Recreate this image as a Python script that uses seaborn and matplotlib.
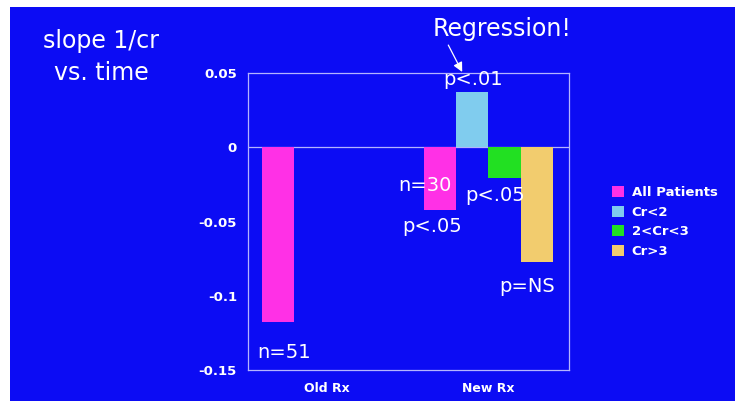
import numpy as np
import pandas as pd
import matplotlib
matplotlib.use("Agg")
import matplotlib.pyplot as plt
import seaborn as sns
from matplotlib.patches import Rectangle

# ---- data ----
groups = ["Old Rx", "Old Rx", "Old Rx", "Old Rx", "New Rx", "New Rx", "New Rx", "New Rx"]
series = ["All Patients", "Cr<2", "2<Cr<3", "Cr>3"] * 2
values = [-0.118, np.nan, np.nan, np.nan, -0.042, 0.037, -0.021, -0.077]
hue_order = ["All Patients", "Cr<2", "2<Cr<3", "Cr>3"]
colors = ["#FF30E6", "#80CCEE", "#22E022", "#F2CC6E"]
ytick_vals = [0.05, 0, -0.05, -0.1, -0.15]
ytick_labels = ["0.05", "0", "-0.05", "-0.1", "-0.15"]

df = pd.DataFrame({"group": groups, "series": series, "value": values}).dropna()

W, H = 740, 401
BLUE = "#0C0CF4"
LINE = "#B4B4FF"

sns.set_theme(style="white")
plt.rcParams["font.family"] = ["DejaVu Sans"]
plt.rcParams["axes.unicode_minus"] = False

fig = plt.figure(figsize=(W / 100, H / 100), dpi=100, facecolor="white")
fig.patches.append(Rectangle((10 / W, 0), (735 - 10) / W, (H - 7) / H,
                             transform=fig.transFigure, facecolor=BLUE,
                             edgecolor="none", zorder=-10))

def px(x0, y0):
    return x0 / W, 1 - y0 / H

l, t = px(248, 73)
r, b = px(569, 370)
ax = fig.add_axes([l, b, r - l, t - b])
ax.set_facecolor("none")

sns.barplot(data=df, x="group", y="value", hue="series", order=["Old Rx", "New Rx"],
            hue_order=hue_order, palette=colors, saturation=1, linewidth=0,
            errorbar=None, ax=ax)

ax.set_xlim(-0.486, 1.498)
ax.set_ylim(-0.15, 0.05)
ax.set_yticks(ytick_vals)
ax.set_yticklabels(ytick_labels)
ax.set_xlabel("")
ax.set_ylabel("")
ax.tick_params(axis="y", length=0, pad=8, labelcolor="white", labelsize=9.5)
ax.tick_params(axis="x", length=0, pad=8.5, labelcolor="white", labelsize=9)
for lab in ax.get_xticklabels() + ax.get_yticklabels():
    lab.set_fontweight("bold")
for s in ax.spines.values():
    s.set_color(LINE)
    s.set_linewidth(0.9)
ax.axhline(0, color=LINE, linewidth=0.9, zorder=0.5)

# annotations
ann = dict(color="white", fontsize=14, ha="left", va="baseline")
ax.text(-0.43, -0.142, "n=51", **ann)
ax.text(0.443, -0.0295, "n=30", **ann)
ax.text(0.467, -0.057, "p<.05", **ann)
ax.text(0.856, -0.0362, "p<.05", **ann)
ax.text(1.066, -0.0975, "p=NS", **ann)
ax.text(0.72, 0.0419, "p<.01", **ann)
ax.text(0.653, 0.0749, "Regression!", color="white", fontsize=17, ha="left", va="baseline")
ax.annotate("", xy=(0.838, 0.0507), xytext=(0.752, 0.0688),
            arrowprops=dict(arrowstyle="-|>", color="white", lw=0.9,
                            mutation_scale=14, shrinkA=0, shrinkB=0),
            annotation_clip=False)

# title text
fig.text(*px(101, 48), "slope 1/cr", color="white", fontsize=17, ha="center", va="baseline")
fig.text(*px(101, 80), "vs. time", color="white", fontsize=17, ha="center", va="baseline")

# legend
handles, labels = ax.get_legend_handles_labels()
if ax.legend_:
    ax.legend_.remove()
leg = fig.legend(handles, labels, loc="upper left", bbox_to_anchor=px(612, 186),
                 frameon=False, handlelength=0.9, handleheight=0.9,
                 handletextpad=0.6, labelspacing=0.5, borderpad=0,
                 borderaxespad=0, prop=dict(size=9.5, weight="bold"))
for txt in leg.get_texts():
    txt.set_color("white")

fig.savefig("out.png", dpi=100, facecolor="white")
